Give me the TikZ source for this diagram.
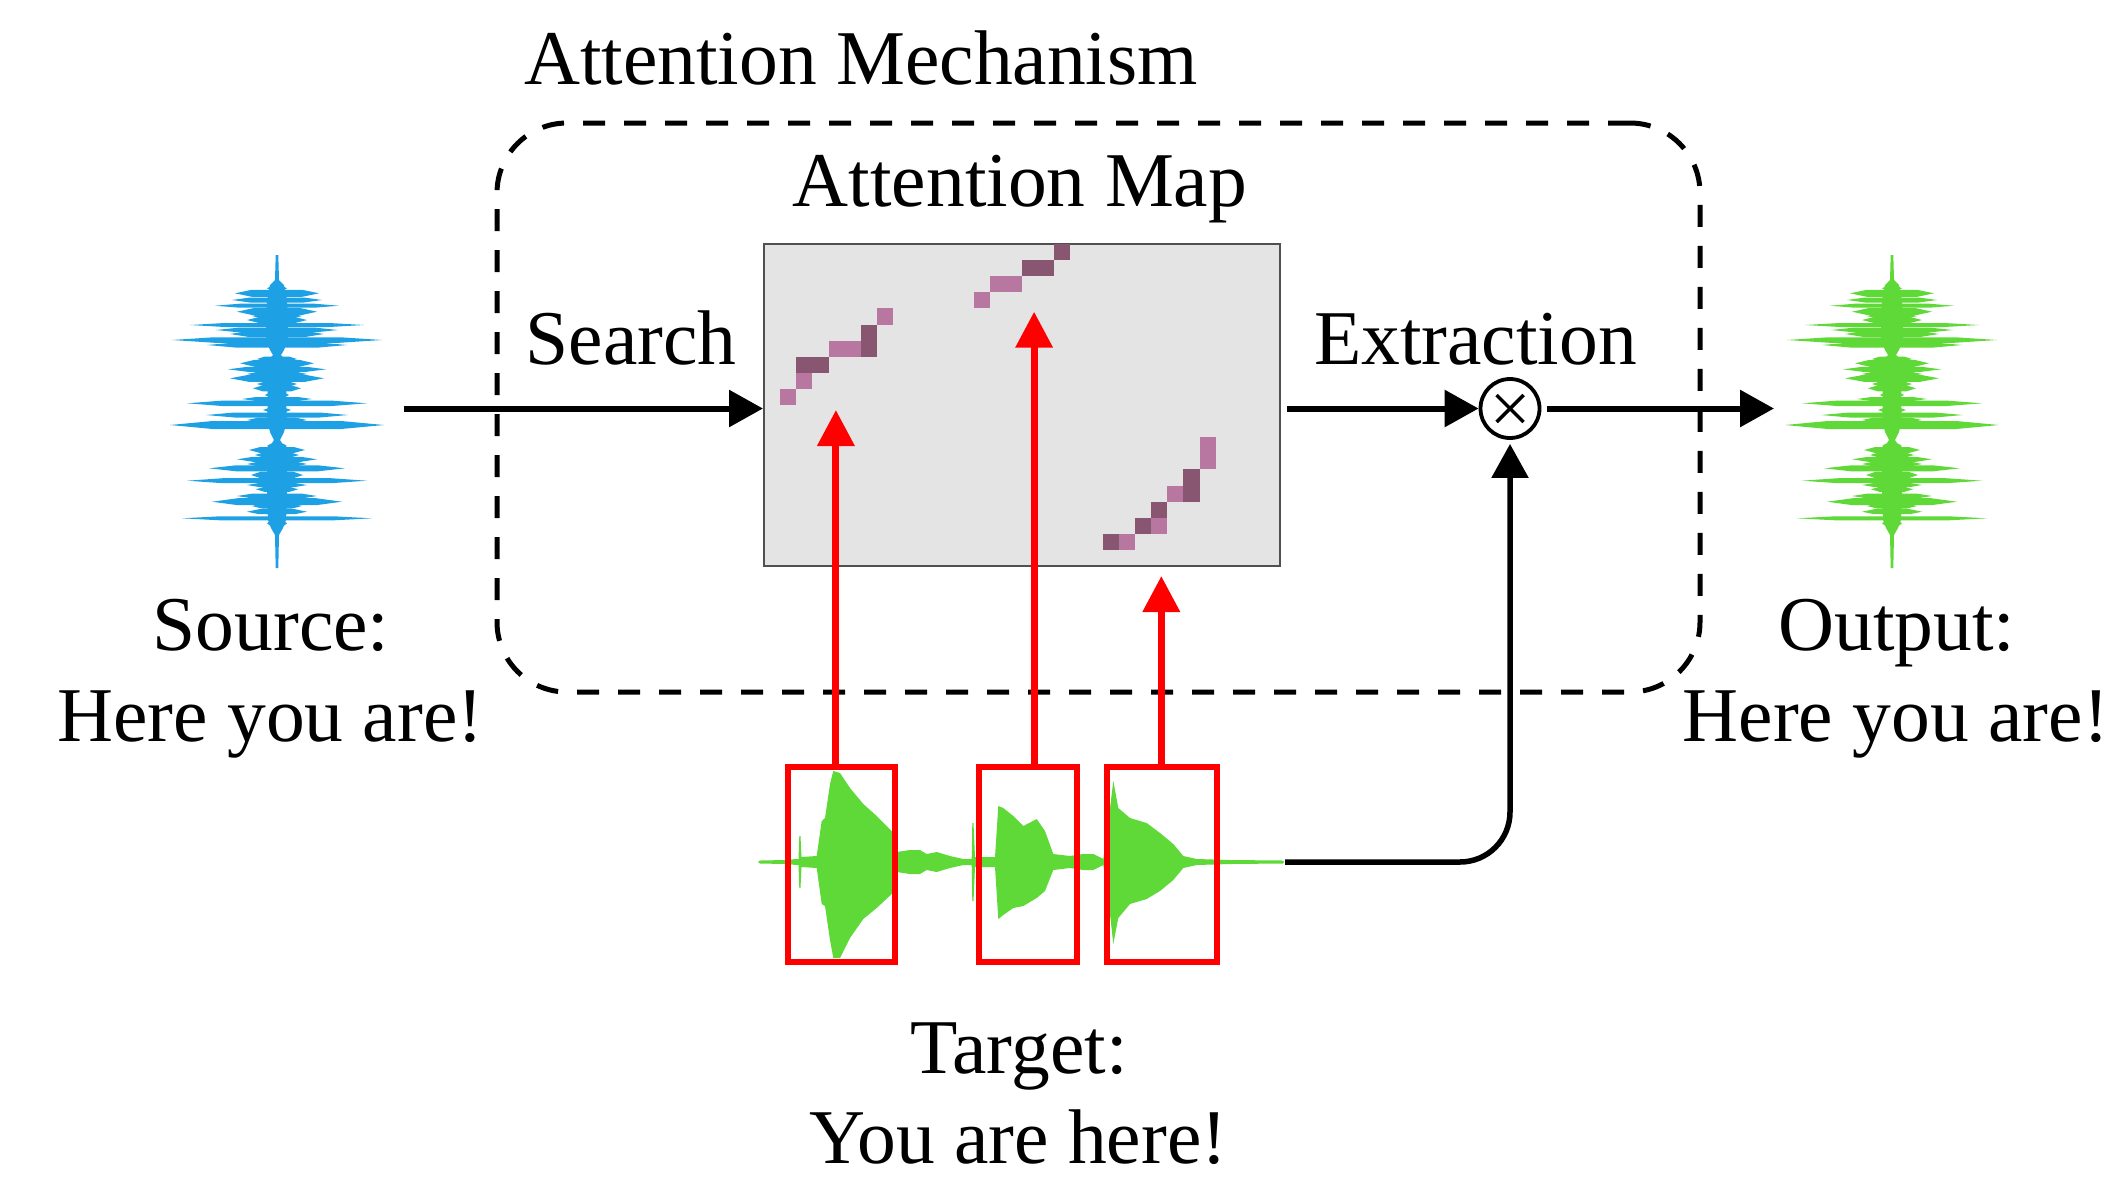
\documentclass[tikz,border=0pt]{standalone}
\usepackage{fontspec}
\setmainfont{Liberation Serif}
\usetikzlibrary{arrows.meta}
\definecolor{srcblue}{RGB}{29,161,228}
\definecolor{wgreen}{RGB}{94,217,56}
\definecolor{cellL}{RGB}{184,119,160}
\definecolor{cellD}{RGB}{136,86,112}
\definecolor{mapgray}{RGB}{228,228,228}
\definecolor{mapedge}{RGB}{80,80,80}
\tikzset{
  lbl/.style={font=\fontsize{77.5}{93}\selectfont, inner sep=0pt, anchor=base},
  blk/.style={line width=6pt, -{Triangle[length=34pt,width=36pt]}},
  redarr/.style={red, line width=7pt, -{Triangle[length=36pt,width=36pt]}},
  redbox/.style={draw=red, line width=6pt, minimum height=194.9pt, inner sep=0pt}
}
\newcommand\drawvwave[2]{%
  \begin{scope}[xshift=#1pt]
    \fill[#2] (-1.3,255) -- (-2,280) -- (-7,285) -- (-10,300) -- (-11,320) -- (-11,340) -- (-7,350) -- (-4,355)
      -- (-9,360) -- (-10,380) -- (-9,400) -- (-10,420) -- (-7,432) -- (-3,440) -- (-7,446) -- (-10,470)
      -- (-10,500) -- (-9,520) -- (-6,528) -- (-2,535) -- (-1.3,568)
      -- (1.3,568) -- (2,535) -- (6,528) -- (9,520) -- (10,500) -- (10,470) -- (7,446) -- (3,440)
      -- (7,432) -- (10,420) -- (9,400) -- (10,380) -- (9,360) -- (4,355) -- (7,350) -- (11,340)
      -- (11,320) -- (10,300) -- (7,285) -- (2,280) -- (1.3,255) -- cycle;
    \foreach \y/\w/\t in {288.3/10/4, 293.3/42/7, 300/45/5, 305.7/62/4, 311.7/40/7, 316/25/5, 320/30/6,
        325/87/4, 330/61/5, 334/47/6, 340/105/5.5, 345/70/5, 359/20/5, 363.3/37/7, 369.3/49/5, 374/30/5,
        378.3/47/7, 384/20/5, 388.3/24/6, 395/12/5, 399/35/4, 403.3/90/5.5, 410/14/4, 415/71/5, 420/30/5,
        425/107/8, 446/10/5, 450/28/6, 455/22/5, 459.3/40/5, 464/30/5, 468.3/68/6, 475/26/7, 480.7/90/5,
        485/30/4, 489.3/21/5, 496/40/5, 501.7/65/7, 506/25/5, 511.7/30/5, 518.3/95/4, 523.3/10/6}
      \fill[#2] ({-\w},{\y}) -- ({-0.6*\w},{\y-\t/2}) -- ({0.6*\w},{\y-\t/2}) -- ({\w},{\y})
        -- ({0.6*\w},{\y+\t/2}) -- ({-0.6*\w},{\y+\t/2}) -- cycle;
  \end{scope}}
\begin{document}
\begin{tikzpicture}[x=1pt,y=-1pt]
\useasboundingbox (0,0) rectangle (2110,1179);

% attention mechanism dashed frame
\node[draw, line width=5pt, dash pattern=on 22pt off 19pt, rounded corners=70pt,
      minimum width=1203pt, minimum height=569pt, inner sep=0pt] (mech) at (1098.5,407.5) {};

% attention map
\node[draw=mapedge, fill=mapgray, line width=2pt, minimum width=516.3pt, minimum height=322pt,
      inner sep=0pt] (map) at (1022.15,405) {};
\foreach \c/\r/\s in {1/9/cellL, 2/8/cellL, 2/7/cellD, 3/7/cellD, 4/6/cellL, 5/6/cellL, 6/6/cellD,
    6/5/cellD, 7/4/cellL,
    13/3/cellL, 14/2/cellL, 15/2/cellL, 16/1/cellD, 17/1/cellD, 18/0/cellD,
    21/18/cellD, 22/18/cellL, 23/17/cellD, 24/17/cellL, 24/16/cellD, 25/15/cellL, 26/15/cellD,
    26/14/cellD, 27/13/cellL, 27/12/cellL}
  \fill[\s] ({764+\c*16.13},{244+\r*16.1}) rectangle ++(16.13,16.1);

% source and output waveforms
\drawvwave{277}{srcblue}
\drawvwave{1892}{wgreen}

% target waveform
\fill[wgreen] (758,862) -- (760,860.5) -- (785,860) -- (797,859) -- (798.5,859) -- (799.3,836) -- (800.5,836)
  -- (801.5,857) -- (816.7,856) -- (821.7,821) -- (825,818) -- (830,784) -- (833.3,771) -- (840,773)
  -- (850,788) -- (863.3,804) -- (876.7,816) -- (891.7,831) -- (894,850) -- (896.7,852) -- (910,850)
  -- (920,850) -- (926.7,854) -- (936.7,852) -- (950,856) -- (963.3,859) -- (971.7,859) -- (972.3,823)
  -- (973.5,823) -- (975,857) -- (995,857) -- (998.3,806) -- (1003.3,808) -- (1013.3,816) -- (1023.3,826)
  -- (1036.7,819) -- (1045,831) -- (1053.3,854) -- (1070,856) -- (1083.3,854) -- (1093.3,854)
  -- (1103.3,859) -- (1109.3,814) -- (1113.3,781) -- (1115,790) -- (1118.3,808) -- (1130,818)
  -- (1146.7,823) -- (1160,833) -- (1173.3,844) -- (1183.3,856) -- (1196.7,859) -- (1230,860)
  -- (1283,860.5) -- (1284,862)
  -- (1283,863.5) -- (1230,864) -- (1196.7,865) -- (1183.3,868) -- (1173.3,880) -- (1160,891)
  -- (1146.7,899) -- (1130,904) -- (1118.3,918) -- (1115,935) -- (1113.3,944) -- (1109.3,908)
  -- (1103.3,865) -- (1093.3,870) -- (1083.3,870) -- (1070,868) -- (1053.3,870) -- (1045,891)
  -- (1036.7,898) -- (1023.3,906) -- (1013.3,908) -- (1003.3,915) -- (998.3,919) -- (995,867)
  -- (975,867) -- (973.5,901) -- (972.3,901) -- (971.7,865) -- (963.3,865) -- (950,868) -- (936.7,872)
  -- (926.7,870) -- (920,874) -- (910,874) -- (896.7,872) -- (894,872) -- (891.7,894) -- (876.7,908)
  -- (863.3,919) -- (850,938) -- (840,958) -- (833.3,958) -- (830,940) -- (825,906) -- (821.7,904)
  -- (816.7,868) -- (801.5,867) -- (800.5,888) -- (799.3,888) -- (798.5,865) -- (797,865) -- (785,864)
  -- (760,863.5) -- cycle;

% red selection boxes
\node[redbox, minimum width=106.9pt] (rb1) at (841.15,864.15) {};
\node[redbox, minimum width=97.2pt] (rb2) at (1028,864.15) {};
\node[redbox, minimum width=110.6pt] (rb3) at (1162,864.15) {};

% coordinates
\coordinate (t1) at (835.9,410);
\coordinate (t2) at (1034.1,311.7);
\coordinate (t3) at (1161.3,576);
\coordinate (srcstart) at (404,408.5);
\coordinate (outtip) at (1774,408.5);
\coordinate (tgtend) at (1285,862);

% red arrows
\draw[redarr] (rb1.north -| t1) -- (t1);
\draw[redarr] (rb2.north -| t2) -- (t2);
\draw[redarr] (rb3.north -| t3) -- (t3);

% multiplication node
\node[circle, draw, line width=3.8pt, minimum size=59pt, inner sep=0pt, fill=white] (mul) at (1510,408.5) {};
\draw[line width=3.5pt] ([shift={(-13.5,-13.5)}]mul.center) -- ([shift={(13.5,13.5)}]mul.center);
\draw[line width=3.5pt] ([shift={(-13.5,13.5)}]mul.center) -- ([shift={(13.5,-13.5)}]mul.center);

% black arrows
\draw[blk] (srcstart) -- (map.west |- srcstart);
\draw[blk] ([xshift=6pt]map.east |- mul.center) -- (mul.west);
\draw[blk, shorten <=6pt] (mul.east) -- (outtip);
\draw[line width=5.5pt, rounded corners=50pt, -{Triangle[length=34pt,width=36pt]}, shorten >=4pt]
  (tgtend) -- (mul.south |- tgtend) -- (mul.south);

% labels
\node[lbl] (tmech) at (861,84) {Attention Mechanism};
\node[lbl] (tmap) at (1020,206.7) {Attention Map};
\node[lbl] (tsearch) at (631,364) {Search};
\node[lbl] (textr) at (1475.5,364) {Extraction};
\node[lbl] (tsrc1) at (271,650) {Source:};
\node[lbl] (tsrc2) at (270.4,741.7) {Here you are!};
\node[lbl] (tout1) at (1896.7,650) {Output:};
\node[lbl] (tout2) at (1895.8,741.7) {Here you are!};
\node[lbl] (ttgt1) at (1019,1073) {Target:};
\node[lbl] (ttgt2) at (1018.3,1163) {You are here!};
\end{tikzpicture}
\end{document}
